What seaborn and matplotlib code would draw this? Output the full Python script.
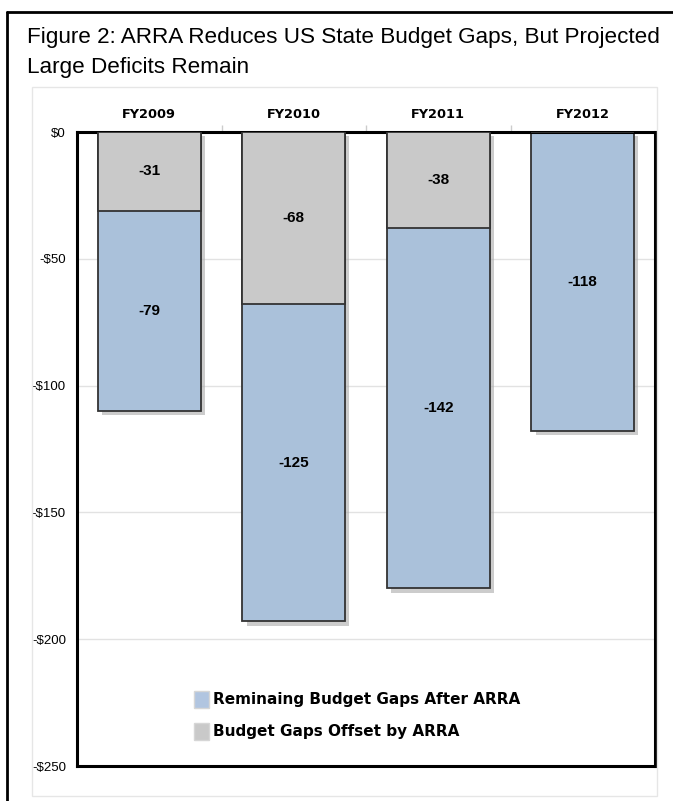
import matplotlib
matplotlib.use("Agg")
import matplotlib.pyplot as plt
import matplotlib.patheffects as pe
from matplotlib import font_manager
import pandas as pd
import seaborn as sns

# ── data ──────────────────────────────────────────────
years = ["FY2009", "FY2010", "FY2011", "FY2012"]
offset_by_arra = [-31, -68, -38, 0]          # grey, top part
remaining_gap = [-79, -125, -142, -118]      # blue, lower part
y_ticks = [0, -50, -100, -150, -200, -250]
y_tick_labels = ["$0", "-$50", "-$100", "-$150", "-$200", "-$250"]

BLUE = "#aac1da"
GREY = "#c9c9c9"

sns.set_theme(style="white")
names = {f.name for f in font_manager.fontManager.ttflist}
NARROW = "Liberation Sans Narrow" if "Liberation Sans Narrow" in names else "Liberation Sans"
plt.rcParams["font.family"] = [NARROW, "DejaVu Sans"]
plt.rcParams["text.color"] = "black"
plt.rcParams["xtick.color"] = "black"
plt.rcParams["ytick.color"] = "black"

df = pd.DataFrame({"year": years, "offset": offset_by_arra, "remaining": remaining_gap})
df["total"] = df["offset"] + df["remaining"]

fig = plt.figure(figsize=(6.73, 8.01), dpi=100)
ax = fig.add_axes([77 / 673, 1 - 766 / 801, 578 / 673, 634 / 801])

# light grid behind bars
ax.set_axisbelow(True)
ax.yaxis.grid(True, color="#e2e2e2", linewidth=1)

shadow = [pe.SimplePatchShadow(offset=(3, -3), shadow_rgbFace="#aaaaaa", alpha=0.6), pe.Normal()]
sns.barplot(data=df, x="year", y="total", color=BLUE, saturation=1, width=0.71,
            edgecolor="#333333", linewidth=1.3, ax=ax, zorder=2)
for p in ax.patches:
    p.set_path_effects(shadow)
sns.barplot(data=df, x="year", y="offset", color=GREY, saturation=1, width=0.71,
            edgecolor="#333333", linewidth=1.3, ax=ax, zorder=3)

# value labels centred in each segment
for i, row in df.iterrows():
    if row["offset"] != 0:
        ax.text(i, row["offset"] / 2, f"{row['offset']}", ha="center", va="center",
                fontsize=11, fontweight="bold", zorder=5)
    ax.text(i, row["offset"] + row["remaining"] / 2, f"{row['remaining']}", ha="center",
            va="center", fontsize=11, fontweight="bold", zorder=5)

ax.set_ylim(-250, 0)
ax.set_xlim(-0.5, len(years) - 0.5)
ax.set_yticks(y_ticks)
ax.set_yticklabels(y_tick_labels, fontsize=9.5)
ax.set_xlabel("")
ax.set_ylabel("")
ax.xaxis.tick_top()
ax.set_xticks(range(len(years)))
ax.set_xticklabels(years, fontsize=9.3, fontweight="bold", family="DejaVu Sans")
ax.tick_params(axis="x", which="major", length=0, pad=8)
ax.set_xticks([0.5, 1.5, 2.5], minor=True)
ax.tick_params(axis="x", which="minor", top=True, length=5, color="#cccccc", width=1)
ax.tick_params(axis="y", length=0, pad=8)
for s in ax.spines.values():
    s.set_visible(True)
    s.set_color("black")
    s.set_linewidth(2.2)

# legend
handles = [plt.Rectangle((0, 0), 1, 1, facecolor="#b1c5e0", edgecolor="#d6d6d6"),
           plt.Rectangle((0, 0), 1, 1, facecolor=GREY, edgecolor="#d6d6d6")]
ax.legend(handles, ["Reminaing Budget Gaps After ARRA", "Budget Gaps Offset by ARRA"],
          loc="upper left", bbox_to_anchor=(0.178, 0.14), frameon=False,
          handlelength=1.0, handleheight=1.3, handletextpad=0.3, labelspacing=1.0,
          prop={"family": "DejaVu Sans", "weight": "bold", "size": 11})

# faint inner panel and outer frame
fig.patches.append(plt.Rectangle((32 / 673, 1 - 796 / 801), 625 / 673, 709 / 801,
                                 transform=fig.transFigure, fill=False,
                                 edgecolor="#e6e6e6", linewidth=1, zorder=0))
fig.add_artist(plt.Line2D([7 / 673, 7 / 673], [0, 1 - 12 / 801], transform=fig.transFigure,
                          color="black", linewidth=2))
fig.add_artist(plt.Line2D([7 / 673, 1], [1 - 12 / 801, 1 - 12 / 801], transform=fig.transFigure,
                          color="black", linewidth=2))

fig.text(27 / 673, 1 - 27 / 801,
         "Figure 2: ARRA Reduces US State Budget Gaps, But Projected\nLarge Deficits Remain",
         ha="left", va="top", fontsize=16.2, linespacing=1.55, color="black")

fig.savefig("out.png", dpi=100)
